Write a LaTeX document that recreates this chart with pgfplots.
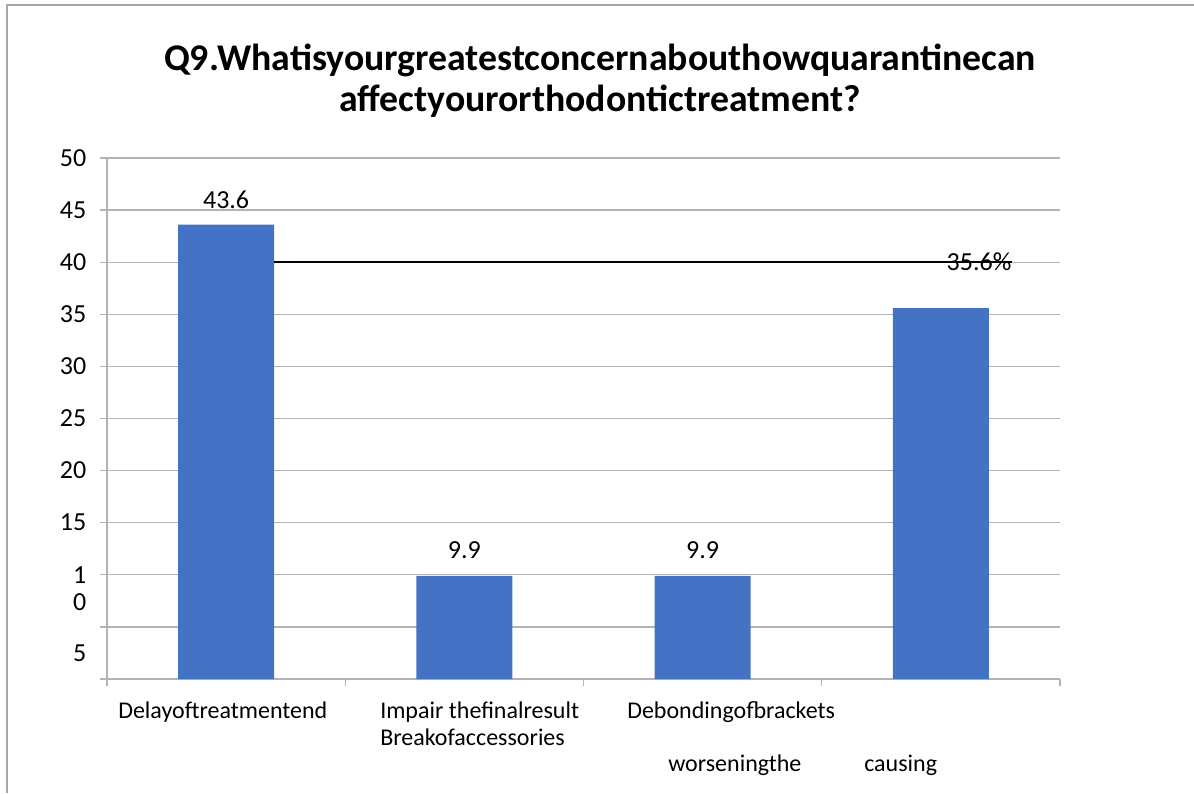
\documentclass[border=0pt]{standalone}
\usepackage{fontspec}
\setmainfont{Carlito}
\usepackage{pgfplots}
\pgfplotsset{compat=1.18}
\definecolor{barblue}{HTML}{4472C4}
\definecolor{gridgray}{HTML}{B3B3B3}
\definecolor{bordergray}{HTML}{A6A6A6}
\begin{document}
\begin{tikzpicture}
\useasboundingbox (0,0) rectangle (895.5pt,594.75pt);
\draw[bordergray, line width=1.2pt] (5.25pt,0pt) -- (5.25pt,591pt) -- (895.5pt,591pt);
\node[font=\bfseries\fontsize{28.3}{33}\selectfont] at (450pt,549.5pt) {Q9.Whatisyourgreatestconcernabouthowquarantinecan};
\node[font=\bfseries\fontsize{28.3}{33}\selectfont] at (450pt,518.5pt) {affectyourorthodontictreatment?};
\begin{axis}[
  at={(80.25pt,85.5pt)}, anchor=south west,
  scale only axis, width=714.75pt, height=390.75pt,
  xmin=-0.5, xmax=3.5, ymin=0, ymax=50,
  axis x line*=bottom, axis y line*=left,
  axis line style={gridgray, line width=0.9pt},
  every tick/.style={gridgray, line width=0.9pt},
  tick align=outside, major tick length=5.5pt,
  xtick={-0.5,0.5,1.5,2.5,3.5}, xticklabels={},
  ytick={0,5,...,50},
  yticklabels={,,1,15,20,25,30,35,40,45,50},
  extra y ticks={7.4,2.5}, extra y tick labels={0,5},
  extra y tick style={major tick length=0pt, grid=none, yticklabel style={xshift=-5.5pt}},
  ymajorgrids, major grid style={gridgray, line width=0.9pt},
  /pgf/number format/assume math mode=true,
  tick label style={font=\fontsize{19.5}{21}\selectfont, black},
  yticklabel style={xshift=-6.5pt},
  clip=false,
]
\addplot[ybar, bar width=0.403, fill=barblue, draw=none] coordinates {(0,43.6) (1,9.9) (2,9.9) (3,35.6)};
\draw[black, line width=1.4pt] (axis cs:0.2,40) -- (axis cs:3.3,40);
\node[font=\fontsize{19.5}{21}\selectfont] at (axis cs:0,46.0) {43.6};
\node[font=\fontsize{19.5}{21}\selectfont] at (axis cs:1,12.4) {9.9};
\node[font=\fontsize{19.5}{21}\selectfont] at (axis cs:2,12.4) {9.9};
\node[font=\fontsize{19.5}{21}\selectfont] at (axis cs:3.16,40) {35.6\%};
\end{axis}
\begin{scope}[every node/.style={anchor=west, inner sep=0pt, font=\fontsize{18}{20}\selectfont}]
\node at (88.5pt,60.75pt) {Delayoftreatmentend};
\node at (285pt,60.75pt) {Impair thefinalresult};
\node at (285pt,42pt) {Breakofaccessories};
\node at (470.25pt,60.75pt) {Debondingofbrackets};
\node at (501pt,21pt) {worseningthe};
\node at (648pt,21pt) {causing};
\end{scope}
\end{tikzpicture}
\end{document}
